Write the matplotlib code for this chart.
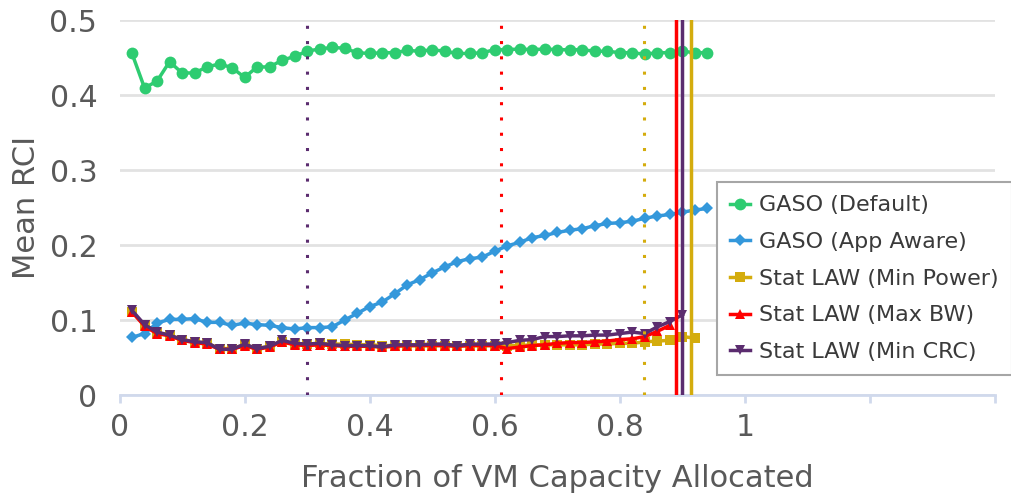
import numpy as np
import matplotlib
matplotlib.use("Agg")
import matplotlib.pyplot as plt

# ---------------- data ----------------
x_all = [round(0.02 * i, 2) for i in range(1, 48)]  # 0.02 .. 0.94

gaso_default = [0.456, 0.410, 0.419, 0.445, 0.430, 0.430, 0.438, 0.442, 0.437, 0.424,
                0.438, 0.438, 0.447, 0.452, 0.459, 0.462, 0.464, 0.463, 0.457, 0.456,
                0.457, 0.457, 0.460, 0.459, 0.461, 0.459, 0.456, 0.456,
                0.457, 0.461, 0.461, 0.462, 0.461, 0.462, 0.461, 0.461, 0.461, 0.459,
                0.459, 0.457, 0.457, 0.455, 0.457, 0.457, 0.459, 0.457, 0.457]

gaso_app = [0.077, 0.082, 0.096, 0.101, 0.101, 0.102, 0.097, 0.097, 0.093, 0.096,
            0.094, 0.093, 0.090, 0.088, 0.090, 0.090, 0.091, 0.100, 0.109, 0.118,
            0.124, 0.135,
            0.147, 0.154, 0.163, 0.171, 0.178, 0.182, 0.184, 0.192, 0.199, 0.204,
            0.210, 0.213, 0.217, 0.220, 0.222, 0.226, 0.229, 0.230, 0.232, 0.236,
            0.239, 0.241, 0.244, 0.247, 0.249]

law_min_power = [0.111, 0.093, 0.083, 0.080, 0.074, 0.071, 0.069, 0.062, 0.062, 0.067,
                 0.062, 0.065, 0.071, 0.068, 0.068, 0.069, 0.068, 0.068, 0.067, 0.067,
                 0.066, 0.066, 0.066,
                 0.066, 0.066, 0.066, 0.066, 0.066, 0.066, 0.066, 0.066, 0.066, 0.067,
                 0.067, 0.067, 0.067, 0.067, 0.068, 0.068,
                 0.069, 0.069, 0.071, 0.072, 0.073, 0.078, 0.076]

law_max_bw = [0.111, 0.092, 0.082, 0.079, 0.073, 0.070, 0.068, 0.061, 0.061, 0.066,
              0.061, 0.064, 0.071, 0.067, 0.066, 0.067, 0.066, 0.065, 0.065, 0.065,
              0.064, 0.065, 0.066,
              0.066, 0.066, 0.066, 0.065, 0.066, 0.066, 0.066,
              0.062, 0.064, 0.066, 0.067, 0.069, 0.070, 0.070, 0.071, 0.072, 0.074,
              0.075, 0.078, 0.085, 0.093]

law_min_crc = [0.113, 0.094, 0.084, 0.080, 0.074, 0.071, 0.070, 0.061, 0.061, 0.068,
               0.062, 0.065, 0.073, 0.069, 0.068, 0.069, 0.067, 0.066, 0.066, 0.066,
               0.064, 0.067, 0.067,
               0.067, 0.068, 0.068, 0.066, 0.068, 0.068, 0.068, 0.070, 0.073, 0.074,
               0.078, 0.078, 0.079, 0.079, 0.080, 0.080, 0.082, 0.084, 0.082, 0.091,
               0.098, 0.107]

labels = ["GASO (Default)", "GASO (App Aware)", "Stat LAW (Min Power)",
          "Stat LAW (Max BW)", "Stat LAW (Min CRC)"]
colors = ["#2ecc71", "#3498db", "#d4ac0d", "#ff0000", "#5b2c6f"]
markers = ["o", "D", "s", "^", "v"]

# vertical reference lines: (x, colour, style)
vline_x = [0.30, 0.61, 0.838, 0.89, 0.90, 0.914]
vline_colors = ["#5b2c6f", "#ff0000", "#d4ac0d", "#ff0000", "#5b2c6f", "#d4ac0d"]
vline_styles = [":", ":", ":", "-", "-", "-"]

xticks = [0, 0.2, 0.4, 0.6, 0.8, 1.0, 1.2, 1.4]
xticklabels = ["0", "0.2", "0.4", "0.6", "0.8", "1", "", ""]
yticks = [0, 0.1, 0.2, 0.3, 0.4, 0.5]
yticklabels = ["0", "0.1", "0.2", "0.3", "0.4", "0.5"]

# ---------------- figure ----------------
plt.rcParams['font.family'] = ['DejaVu Sans']
fig = plt.figure(figsize=(10.11, 4.98), dpi=100)
ax = fig.add_axes([119.5 / 1011, 1 - 395 / 498, (995 - 119.5) / 1011, (395 - 20.5) / 498])

series = [gaso_default, gaso_app, law_min_power, law_max_bw, law_min_crc]
msizes = [8.5, 6.5, 7, 7, 7.5]
handles = []
for s, lab, c, m, ms in zip(series, labels, colors, markers, msizes):
    xs = x_all[:len(s)]
    h, = ax.plot(xs, s, color=c, marker=m, markersize=ms, linewidth=2.5,
                 markeredgewidth=0, label=lab, zorder=3, clip_on=False)
    handles.append(h)

for vx, vc, vs in zip(vline_x, vline_colors, vline_styles):
    if vs == ":":
        ax.axvline(vx, color=vc, linestyle=(0, (1, 4)), linewidth=2.2, zorder=4)
    else:
        ax.axvline(vx, color=vc, linestyle="-", linewidth=2.5, zorder=4)

ax.set_xlim(0, 1.4)
ax.set_ylim(0, 0.5)
ax.set_xticks(xticks)
ax.set_xticklabels(xticklabels)
ax.set_yticks(yticks)
ax.set_yticklabels(yticklabels)

for sp in ["top", "right", "left"]:
    ax.spines[sp].set_visible(False)
ax.spines["bottom"].set_color("#d0d9ec")
ax.spines["bottom"].set_linewidth(2)

ax.yaxis.grid(True, color="#e2e2e2", linewidth=2)
ax.xaxis.grid(False)
ax.set_axisbelow(True)

ax.tick_params(axis="y", length=0, pad=16, labelsize=21.5, labelcolor="#595959")
ax.tick_params(axis="x", length=6, width=2, color="#d0d9ec", direction="out",
               pad=7, labelsize=21.5, labelcolor="#595959")

ax.set_xlabel("Fraction of VM Capacity Allocated", fontsize=22, color="#595959", labelpad=16)
ax.set_ylabel("Mean RCI", fontsize=22, color="#595959", labelpad=6)

leg = fig.legend(handles=handles, labels=labels, loc="upper left",
                 bbox_to_anchor=(717 / 1011, 1 - 182 / 498),
                 fontsize=16, frameon=True, fancybox=False,
                 edgecolor="#a6a6a6", facecolor="white", framealpha=1,
                 handlelength=0.9, handletextpad=0.4, labelspacing=0.75,
                 borderpad=0.6, borderaxespad=0)
leg.get_frame().set_linewidth(1.5)
for t in leg.get_texts():
    t.set_color("#3a3a3a")

fig.savefig("out.png", dpi=100)
